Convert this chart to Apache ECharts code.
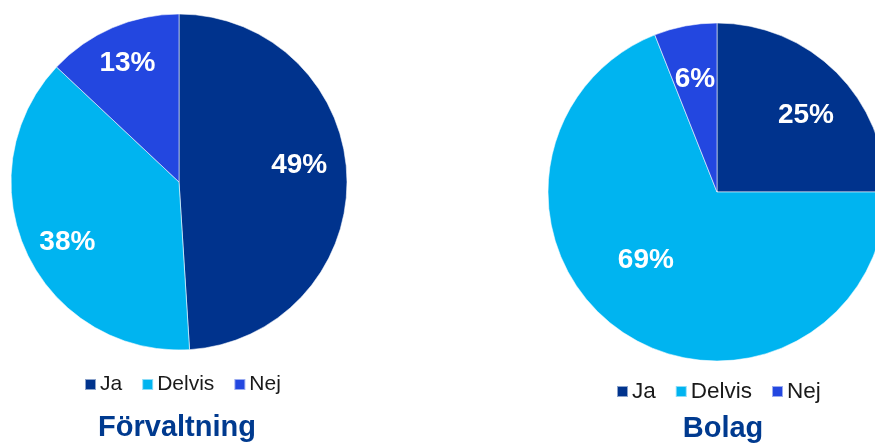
<!DOCTYPE html>
<html>
<head>
<meta charset="utf-8">
<script src="https://cdn.jsdelivr.net/npm/echarts@6/dist/echarts.min.js"></script>
<style>
  html, body { margin: 0; padding: 0; background: #fff; }
  #chart { width: 875px; height: 444px; }
</style>
</head>
<body>
<div id="chart"></div>
<script>
// Answer categories and their shares (percent) for each group
const categories = ['Ja', 'Delvis', 'Nej'];
const forvaltningValues = [49, 38, 13];
const bolagValues = [25, 69, 6];
const groupTitles = ['Förvaltning', 'Bolag'];

const colors = ['#00338D', '#00B4F0', '#2347E0'];
const font = '"Liberation Sans", Arial, sans-serif';

function toData(values, nudges) {
  return categories.map((name, i) => {
    const item = { name, value: values[i] };
    if (nudges && nudges[i]) item.label = { offset: nudges[i] };
    return item;
  });
}

// Full pie with slice colours, no labels
function piePart(values, center, radius) {
  return {
    type: 'pie',
    center: center,
    radius: radius,
    startAngle: 90,
    clockwise: true,
    silent: true,
    label: { show: false },
    labelLine: { show: false },
    itemStyle: {
      color: (p) => colors[p.dataIndex],
      borderColor: 'rgba(255,255,255,0.55)',
      borderWidth: 1
    },
    data: toData(values)
  };
}

// Transparent ring used only to place the percentage labels further out
function labelPart(values, center, radius, nudges) {
  return {
    type: 'pie',
    center: center,
    radius: [radius * 0.42, radius],
    startAngle: 90,
    clockwise: true,
    silent: true,
    legendHoverLink: false,
    itemStyle: { color: 'rgba(0,0,0,0)' },
    label: {
      show: true,
      position: 'inside',
      formatter: '{c}%',
      color: '#fff',
      fontFamily: font,
      fontWeight: 'bold',
      fontSize: 28
    },
    labelLine: { show: false },
    data: toData(values, nudges)
  };
}

function legendAt(left, top, fontSize, gap) {
  return {
    left: left,
    top: top,
    data: categories.map((name, i) => ({ name, itemStyle: { color: colors[i] } })),
    icon: 'rect',
    itemWidth: 11,
    itemHeight: 11,
    itemGap: gap,
    selectedMode: false,
    textStyle: { fontFamily: font, fontSize: fontSize, color: '#1a1a1a', padding: [0, 0, 0, -1] }
  };
}

const titleStyle = { fontFamily: font, fontWeight: 'bold', fontSize: 29, color: '#003A8F' };

const chart = echarts.init(document.getElementById('chart'), null, { renderer: 'canvas' });
chart.setOption({
  animation: false,
  backgroundColor: '#ffffff',
  title: [
    { text: groupTitles[0], left: 172, top: 408, textAlign: 'center', textStyle: titleStyle },
    { text: groupTitles[1], left: 718, top: 409, textAlign: 'center', textStyle: titleStyle }
  ],
  legend: [
    legendAt(79, 369, 21, 19),
    legendAt(611, 375, 22.5, 19)
  ],
  series: [
    piePart(forvaltningValues, [179, 182], 168),
    piePart(bolagValues, [717, 192], 169),
    labelPart(forvaltningValues, [179, 182], 168, [[-2, -13], [-1, 8], [-3, -6]]),
    labelPart(bolagValues, [717, 192], 169, [[2, 10], [-2, -33], [1, 8]])
  ]
});
</script>
</body>
</html>
